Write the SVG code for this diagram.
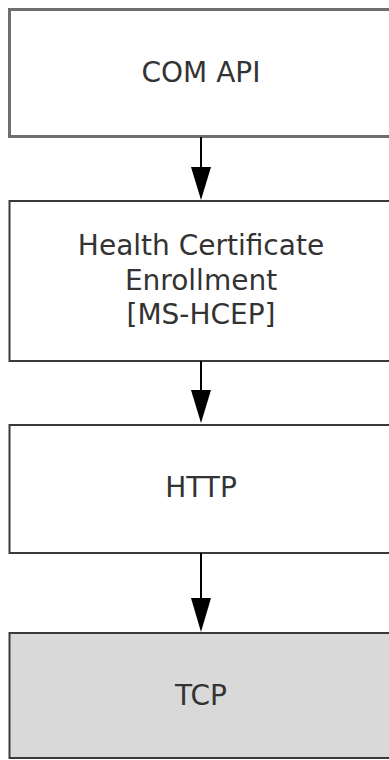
<svg xmlns="http://www.w3.org/2000/svg" width="389" height="760" viewBox="0 0 389 760">
<style>
.box{fill:#ffffff;stroke:#3a3a3a;stroke-width:2}
.lbl{font-family:"DejaVu Sans",Verdana,sans-serif;font-size:28px;fill:#333333;text-anchor:middle}
.conn{stroke:#000000;stroke-width:2;fill:none}
.head{fill:#000000}
</style>
<rect width="389" height="760" fill="#ffffff"/>
<g id="node-com-api">
<rect class="box" x="9.5" y="9.5" width="400" height="127" style="stroke:#6e6e6e;stroke-width:3"/>
<text class="lbl" x="201" y="82">COM API</text>
</g>
<g id="node-ms-hcep">
<rect class="box" x="9.5" y="201" width="400" height="160"/>
<text class="lbl" x="201" y="255">Health Certificate</text>
<text class="lbl" x="201" y="290">Enrollment</text>
<text class="lbl" x="201" y="324">[MS-HCEP]</text>
</g>
<g id="node-http">
<rect class="box" x="9.5" y="425" width="400" height="128"/>
<text class="lbl" x="201" y="497">HTTP</text>
</g>
<g id="node-tcp">
<rect class="box" x="9.5" y="633" width="400" height="125" style="fill:#d9d9d9"/>
<text class="lbl" x="201" y="705">TCP</text>
</g>
<g id="connectors">
<line class="conn" x1="201" y1="137" x2="201" y2="170"/>
<polygon class="head" points="191,167 211,167 201,200"/>
<line class="conn" x1="201" y1="361" x2="201" y2="393"/>
<polygon class="head" points="191,390 211,390 201,423"/>
<line class="conn" x1="201" y1="553" x2="201" y2="601"/>
<polygon class="head" points="191,598 211,598 201,632"/>
</g>
</svg>
